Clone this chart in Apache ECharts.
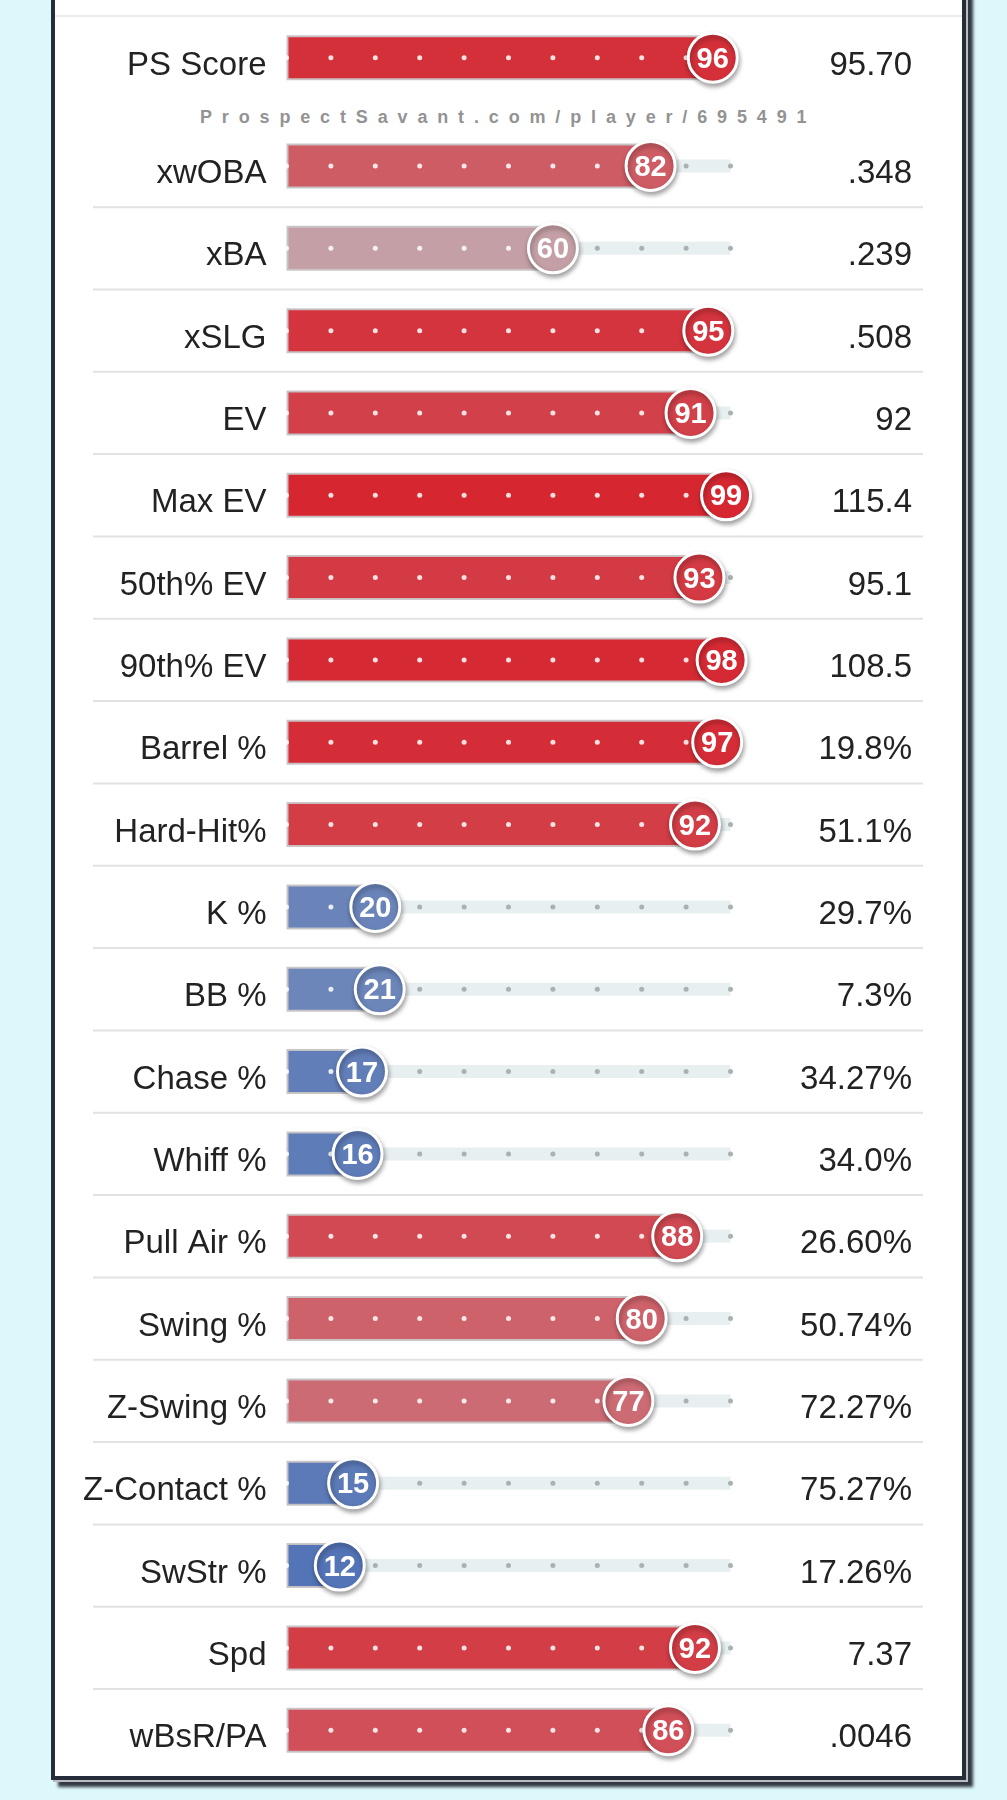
<!DOCTYPE html>
<html>
<head>
<meta charset="utf-8">
<script src="https://cdn.jsdelivr.net/npm/echarts@6/dist/echarts.min.js"></script>
<style>
  html, body { margin: 0; padding: 0; width: 1007px; height: 1800px; overflow: hidden; background: #ddf8fb; }
  #panel { position: absolute; left: 51px; top: -20px; width: 915px; height: 1800px; box-sizing: border-box;
    background: #ffffff; border: 4px solid #262d3a;
    box-shadow: 2px 2px 0 #b9bcc0, 7px 7px 3px rgba(35,40,50,0.92); }
  #topline { position: absolute; left: 55px; top: 15px; width: 907px; height: 2px; background: #ebebeb; }
  #mark { position: absolute; left: 200px; top: 106px; font: bold 18px 'Liberation Sans', Arial, Helvetica, sans-serif;
    letter-spacing: 9.85px; color: #939393; white-space: nowrap; line-height: 22px; }
  #chart { position: absolute; left: 0; top: 0; width: 1007px; height: 1800px; }
</style>
</head>
<body>
<div id="panel"></div>
<div id="topline"></div>
<div id="mark">ProspectSavant.com/player/695491</div>
<div id="chart"></div>
<script>
// ---- data ----
const psCategory = ['PS Score'];
const psPercentile = [96];
const psValue = ['95.70'];

const categories = ['xwOBA', 'xBA', 'xSLG', 'EV', 'Max EV', '50th% EV', '90th% EV', 'Barrel %', 'Hard-Hit%',
  'K %', 'BB %', 'Chase %', 'Whiff %', 'Pull Air %', 'Swing %', 'Z-Swing %', 'Z-Contact %', 'SwStr %', 'Spd', 'wBsR/PA'];
const percentiles = [82, 60, 95, 91, 99, 93, 98, 97, 92, 20, 21, 17, 16, 88, 80, 77, 15, 12, 92, 86];
const statValues = ['.348', '.239', '.508', '92', '115.4', '95.1', '108.5', '19.8%', '51.1%', '29.7%', '7.3%',
  '34.27%', '34.0%', '26.60%', '50.74%', '72.27%', '75.27%', '17.26%', '7.37', '.0046'];
const dotTicks = [0, 10, 20, 30, 40, 50, 60, 70, 80, 90, 100];
const scaleMax = 100;

// ---- layout ----
const W = 1007;
const gridLeft = 93, gridRight = 923;
const zeroX = 286.5, fullX = 730.5;
const pxPerUnit = (fullX - zeroX) / scaleMax;
const xMin = -(zeroX - gridLeft) / pxPerUnit;
const xMax = scaleMax + (gridRight - fullX) / pxPerUnit;
const rowH = 82.33;
const FONT = "'Liberation Sans', Arial, Helvetica, sans-serif";

function mix(a, b, t) { return a.map((v, i) => Math.round(v + (b[i] - v) * t)); }
function pctColor(p) {
  const lo = [48, 92, 178], mid = [192, 191, 196], hi = [214, 36, 46];
  const c = p < 50 ? mix(lo, mid, p / 50) : mix(mid, hi, (p - 50) / 50);
  return 'rgb(' + c.join(',') + ')';
}

function gridSeries(gi, cats, pcts) {
  const xi = gi, yl = gi * 2, yr = gi * 2 + 1;
  const list = [];
  list.push({
    type: 'bar', xAxisIndex: xi, yAxisIndex: yr, barWidth: 13, z: 1, silent: true,
    itemStyle: { color: '#e8eff0' },
    data: cats.map(() => scaleMax)
  });
  list.push({
    type: 'bar', xAxisIndex: xi, yAxisIndex: yl, barWidth: 45, z: 2, silent: true,
    data: pcts.map(p => ({ value: p, itemStyle: { color: pctColor(p), borderColor: 'rgba(200,196,198,0.95)', borderWidth: 2 } }))
  });
  const dots = [];
  pcts.forEach((p, i) => dotTicks.forEach(t => {
    dots.push({ value: [t, i], itemStyle: { opacity: 1, color: t < p ? 'rgba(255,255,255,0.85)' : '#a9b1b3' } });
  }));
  list.push({
    type: 'scatter', xAxisIndex: xi, yAxisIndex: yl, symbolSize: 5, z: 3, silent: true, data: dots
  });
  list.push({
    type: 'scatter', xAxisIndex: xi, yAxisIndex: yl, symbolSize: 49, z: 4, silent: true,
    data: pcts.map((p, i) => ({
      value: [p, i],
      itemStyle: { opacity: 1, color: pctColor(p), borderColor: '#ffffff', borderWidth: 3,
        shadowBlur: 5, shadowColor: 'rgba(0,0,0,0.35)', shadowOffsetX: 1, shadowOffsetY: 3 }
    })),
    label: { show: true, position: 'inside', offset: [0, 2], formatter: (d) => d.value[0], color: '#ffffff',
      fontSize: 29, fontWeight: 'bold', fontFamily: FONT }
  });
  return list;
}

const labelStyle = { fontSize: 33, color: '#222222', fontFamily: FONT, verticalAlign: 'top', lineHeight: 16 };

function yAxes(gi, cats, vals) {
  return [
    { gridIndex: gi, type: 'category', data: cats, inverse: true,
      axisLine: { show: false }, axisTick: { show: false }, splitLine: { show: false },
      axisLabel: Object.assign({ inside: true, margin: 266.5 - gridLeft, align: 'right' }, labelStyle) },
    { gridIndex: gi, type: 'category', data: vals, inverse: true, position: 'right',
      axisLine: { show: false }, axisTick: { show: false }, splitLine: { show: false },
      axisLabel: Object.assign({ inside: true, margin: gridRight - 912, align: 'right' }, labelStyle) }
  ];
}
function xAxis(gi) {
  return { gridIndex: gi, type: 'value', min: xMin, max: xMax, show: false };
}

const grid2Top = 124.8;
const option = {
  animation: false,
  backgroundColor: 'transparent',
  grid: [
    { left: gridLeft, right: W - gridRight, top: 16.5, height: rowH },
    { left: gridLeft, right: W - gridRight, top: grid2Top, height: rowH * categories.length }
  ],
  xAxis: [xAxis(0), xAxis(1)],
  yAxis: [].concat(yAxes(0, psCategory, psValue), yAxes(1, categories, statValues)),
  series: [].concat(
    gridSeries(0, psCategory, psPercentile),
    gridSeries(1, categories, percentiles),
    [{
      type: 'custom', xAxisIndex: 1, yAxisIndex: 2, z: 0, silent: true,
      data: categories.slice(0, -1).map((c, i) => [0, i]),
      encode: { x: 0, y: 1 },
      renderItem: function (params, api) {
        const cs = params.coordSys;
        const c = api.coord([0, api.value(1)]);
        const h = api.size([0, 1])[1];
        const y = c[1] + h / 2;
        return { type: 'line', shape: { x1: cs.x, y1: y, x2: cs.x + cs.width, y2: y },
          style: { stroke: '#e2e2e2', lineWidth: 2 } };
      }
    }]
  )
};

const chart = echarts.init(document.getElementById('chart'), null, { renderer: 'canvas' });
chart.setOption(option);
</script>
</body>
</html>
